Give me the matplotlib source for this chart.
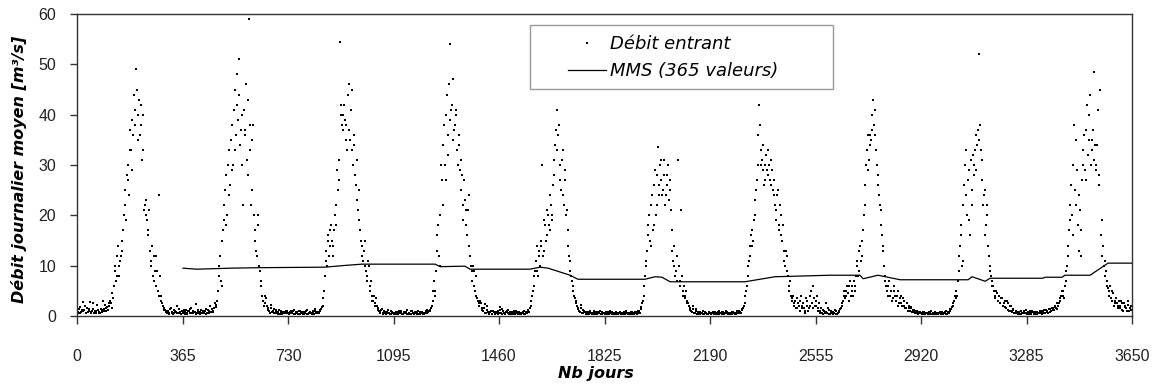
import matplotlib.pyplot as plt
from matplotlib.patches import Rectangle

# daily inflow: two readings per 5-day slot (day 5i and day 5i+2), one list per year
step = 5
offset = 2
year_len = 365

flow_y1 = [1.0, 0.6, 1.8, 0.8, 2.8, 1.2, 0.5, 1.5, 0.9, 2.7, 0.7, 1.3, 0.6, 1.0, 2.2, 0.8, 0.5, 1.1, 2.9, 1.4,
           0.9, 1.8, 2.5, 3.0, 1.6,
           3.5, 9, 7, 12, 8, 11, 13, 17, 22, 19, 27, 24, 33, 29, 36, 41, 49, 35, 43, 38, 31, 40, 22, 20, 17,
           21, 11, 14, 7, 9, 12, 5, 24, 4, 2.5, 1.5,
           1.2, 0.6, 0.9, 0.4, 1.5, 0.7, 0.5, 1.0, 2.0, 0.6, 0.8, 0.4]
flow2_y1 = [0.7, 1.4, 0.5, 1.1, 0.9, 2.0, 0.6, 0.8, 1.3, 0.5, 1.0, 2.6, 0.9, 0.6, 1.2, 0.5, 1.4, 0.7, 1.0, 2.1,
            1.5, 1.2, 2.0, 2.6, 4.5,
            6, 10, 8, 14, 10, 12, 15, 20, 25, 28, 30, 37, 33, 39, 44, 38, 45, 40, 36, 42, 33, 21, 23, 19,
            16, 13, 10, 8, 12, 6, 9, 4, 8, 3, 2, 1.2,
            0.8, 1.0, 0.5, 1.3, 0.6, 0.4, 1.1, 0.7, 0.5, 1.4, 0.6, 0.9]

flow_y2 = [0.5, 1.2, 0.7, 0.4, 1.0, 0.6, 1.5, 0.5, 0.8, 2.4, 0.6, 0.9, 0.4, 1.1, 0.7, 0.5, 1.3, 0.6, 0.9, 2.0,
           0.7, 1.0, 1.6, 2.2,
           3, 8, 12, 6, 17, 22, 28, 20, 33, 26, 38, 30, 45, 36, 42, 51, 34, 40, 22, 37, 46, 28, 59, 33, 25,
           38, 17, 13, 20, 10, 7, 4, 3, 2.5, 3.5, 1.5,
           1.0, 2.2, 0.7, 1.4, 0.5, 0.9, 0.4, 1.2, 0.6, 0.3, 0.8, 0.5, 1.0]
flow2_y2 = [0.8, 0.4, 1.1, 0.6, 0.9, 1.3, 0.5, 1.0, 0.7, 0.4, 1.2, 0.6, 0.8, 0.5, 1.0, 0.9, 0.4, 1.1, 0.6, 0.8,
            1.3, 0.7, 2.6, 1.8,
            5, 10, 7, 15, 19, 25, 18, 30, 24, 35, 29, 41, 33, 48, 39, 44, 37, 30, 41, 36, 31, 43, 38, 22,
            35, 20, 15, 12, 18, 9, 6, 3, 2, 4, 2, 1.2,
            0.6, 1.5, 0.9, 0.5, 1.2, 0.6, 0.8, 0.4, 1.0, 0.7, 0.5, 0.9, 0.6]

flow_y3 = [0.6, 0.3, 0.9, 0.5, 1.2, 0.4, 0.7, 0.3, 1.0, 0.5, 0.8, 0.4, 0.6, 1.1, 0.3, 0.7, 0.5, 0.9, 0.4, 1.3,
           0.6, 0.8, 1.0, 1.4,
           2, 5, 13, 10, 16, 14, 18, 12, 17, 22, 29, 27, 54.5, 40, 37, 42, 38, 33, 46, 35, 45, 30, 34, 26,
           23, 25, 17, 14, 11, 15, 9, 7, 10, 6, 4, 3, 2, 3.5, 1.5,
           1.0, 0.6, 1.4, 0.5, 0.8, 0.4, 1.1, 0.6, 0.3, 0.7]
flow2_y3 = [0.4, 0.8, 0.5, 1.0, 0.3, 0.7, 0.5, 0.9, 0.4, 0.6, 0.3, 0.8, 1.0, 0.4, 0.6, 0.5, 0.3, 0.7, 0.9, 0.5,
            0.8, 0.6, 1.2, 1.8,
            3.5, 8, 11, 15, 12, 17, 15, 14, 20, 18, 25, 31, 42, 38, 40, 39, 35, 44, 37, 41, 33, 36, 28, 31,
            21, 19, 15, 12, 13, 10, 8, 11, 5, 7, 3, 4, 2.5, 2, 1.2,
            0.7, 1.1, 0.4, 0.9, 0.6, 0.8, 0.5, 0.4, 0.9, 0.5]

flow_y4 = [0.5, 0.3, 0.8, 0.4, 1.0, 0.6, 0.3, 0.7, 0.5, 1.2, 0.4, 0.6, 0.3, 0.9, 0.5, 0.7, 0.4, 1.0, 0.3, 0.6,
           0.8, 0.4, 0.5, 1.1, 0.7, 0.9, 1.5,
           3, 7, 5, 13, 18, 10, 30, 22, 38, 27, 44, 36, 54, 41, 47, 37, 40, 33, 36, 29, 31, 22, 27, 21, 16,
           24, 12, 9, 10, 6, 8, 3.5, 2.5, 3, 1.5,
           0.9, 2.4, 0.5, 1.1, 0.4, 0.7, 0.3, 1.0, 0.5, 0.8, 0.4]
flow2_y4 = [0.4, 0.6, 0.3, 0.7, 0.5, 0.9, 0.4, 0.5, 0.8, 0.3, 0.6, 0.4, 0.9, 0.5, 0.3, 0.6, 0.8, 0.4, 0.7, 0.5,
            0.3, 0.6, 0.9, 0.5, 1.0, 1.2, 2.0,
            5, 4, 9, 16, 12, 20, 27, 34, 30, 40, 32, 46, 39, 42, 35, 38, 41, 30, 34, 25, 28, 19, 23, 18,
            21, 14, 10, 7, 9, 5, 4, 3, 2, 2.5, 1.2,
            1.5, 0.6, 2.0, 0.8, 0.5, 1.0, 0.4, 0.7, 0.3, 0.6, 0.9]

flow_y5 = [0.6, 1.8, 0.4, 0.9, 0.3, 0.7, 1.2, 0.4, 0.5, 0.8, 0.3, 0.6, 1.0, 0.4, 0.7, 0.3, 0.5, 0.9, 0.4, 0.6,
           1.1, 0.8,
           2, 4, 6, 9, 14, 8, 12, 15, 30, 13, 18, 16, 20, 17, 22, 19, 28, 34, 41, 36, 30, 25, 33, 22, 27,
           21, 14, 11, 8, 6, 4, 3, 2,
           1.4, 0.8, 2.1, 0.5, 1.0, 0.4, 0.7, 0.3, 0.9, 0.5, 0.6, 0.3, 0.8, 0.4, 0.5, 1.0, 0.3, 0.6]
flow2_y5 = [1.2, 0.5, 1.4, 0.6, 0.4, 0.9, 0.5, 0.7, 0.3, 0.6, 0.9, 0.4, 0.5, 0.8, 0.3, 0.6, 0.7, 0.4, 0.8, 0.5,
            0.9, 1.5,
            3, 5, 8, 11, 9, 13, 10, 14, 12, 19, 15, 21, 18, 24, 20, 26, 31, 37, 33, 38, 27, 31, 24, 29, 20,
            17, 12, 9, 7, 5, 3.5, 2.5, 1.5,
            1.0, 1.6, 0.6, 1.2, 0.7, 0.5, 0.4, 0.8, 0.6, 0.3, 0.9, 0.5, 0.4, 0.7, 0.6, 0.4, 0.8, 0.5]

flow_y6 = [0.4, 0.7, 0.3, 0.5, 0.9, 0.3, 0.6, 0.4, 0.8, 0.3, 0.5, 0.7, 0.4, 0.3, 0.6, 0.9, 0.4, 0.5, 0.3, 0.7,
           0.4, 0.6, 0.8, 0.5, 1.0, 1.3,
           2.5, 4, 8, 11, 16, 20, 14, 24, 18, 29, 22, 33.5, 26, 31, 24, 28, 22, 26, 30, 25, 21, 13, 10, 8,
           12, 31, 7, 21, 5, 6, 4, 3, 2.5, 1.5,
           1.0, 2.0, 0.6, 1.3, 0.4, 0.8, 0.3, 0.6, 1.0, 0.4, 0.5, 0.3, 0.7]
flow2_y6 = [0.6, 0.4, 0.8, 0.3, 0.5, 0.7, 0.4, 0.6, 0.3, 0.5, 0.8, 0.4, 0.6, 0.7, 0.3, 0.5, 0.6, 0.4, 0.8, 0.5,
            0.3, 0.7, 0.4, 0.9, 0.6, 1.8,
            3, 6, 10, 13, 18, 15, 22, 17, 26, 20, 28, 24, 30, 27, 25, 31, 24, 28, 23, 27, 17, 11, 14, 9,
            7, 10, 6, 8, 4, 3.5, 5, 2.5, 2, 1.2,
            0.8, 1.4, 0.5, 0.9, 0.6, 0.4, 0.7, 0.5, 0.3, 0.8, 0.6, 0.4, 0.5]

flow_y7 = [0.5, 0.3, 0.8, 0.4, 0.6, 0.3, 0.9, 0.5, 0.4, 0.7, 0.3, 0.5, 0.8, 0.4, 0.6, 0.3, 0.7, 0.5, 0.4, 0.9,
           0.6, 0.8, 1.1, 1.6,
           2.5, 5, 8, 11, 14, 17, 15, 20, 25, 30, 42, 33, 31, 29, 27, 32, 28, 30, 26, 29, 24, 22, 19, 25,
           17, 20, 15, 13, 10, 12, 8, 5, 4, 3, 2, 3, 1.5, 2.5, 1, 4, 2, 1.5, 0.5, 3, 1, 2, 5, 1.5, 3.5]
flow2_y7 = [0.4, 0.6, 0.5, 0.7, 0.3, 0.8, 0.4, 0.6, 0.7, 0.3, 0.5, 0.9, 0.4, 0.6, 0.3, 0.8, 0.5, 0.4, 0.7, 0.6,
            0.9, 0.5, 1.4, 2.0,
            4, 6, 10, 12, 16, 14, 19, 23, 27, 36, 38, 30, 34, 26, 30, 29, 33, 27, 31, 25, 27, 21, 24, 18,
            22, 16, 18, 11, 13, 9, 6, 7, 3.5, 4, 2.5, 1.5, 3.5, 2, 3, 1.5, 2.5, 1, 3.5, 2, 1.5, 4, 2.5, 6, 2]

flow_y8 = [2, 4, 1, 0.6, 1.5, 0.4, 0.9, 2.6, 0.5, 1.2, 0.4, 0.8, 0.3, 0.6, 1.0, 0.4, 0.7, 1.3, 2.0,
           3, 5, 4, 6, 3, 7, 5, 4, 6, 8, 11, 9, 14, 12, 17, 22, 30, 36, 31, 34, 37, 43, 41, 33, 28, 24,
           21, 16, 13, 8, 6, 4, 7, 5, 3, 6, 4, 3, 5, 2.5, 4, 2, 3, 1.5, 2.5, 1, 2, 1.5, 0.8, 1.2, 0.5,
           0.9, 0.4, 0.7]
flow2_y8 = [3, 1.5, 2.5, 1.0, 0.5, 1.2, 0.6, 0.8, 1.5, 0.4, 0.9, 0.5, 0.7, 1.1, 0.4, 0.6, 1.0, 1.6, 2.5,
            4, 3.5, 5, 4.5, 6, 4, 6, 7, 5, 10, 8, 13, 11, 15, 20, 26, 33, 29, 36, 35, 40, 38, 36, 30, 26,
            22, 18, 14, 10, 7, 5, 6, 4, 5, 3.5, 5, 3, 4, 2, 3.5, 2.5, 3.5, 2, 1.5, 2.5, 1.5, 1.0, 1.8,
            1.2, 0.7, 1.0, 0.6, 0.8, 0.5]

flow_y9 = [0.5, 0.3, 0.8, 0.4, 0.6, 0.3, 0.5, 0.9, 0.4, 0.3, 0.7, 0.5, 0.4, 0.8, 0.3, 0.6, 0.5, 0.9, 0.4, 0.7,
           1.0, 1.4,
           2, 3, 5, 4, 9, 14, 18, 11, 26, 33, 20, 29, 16, 25, 32, 28, 36, 34, 52, 38, 31, 22, 25, 18, 20,
           12, 9, 7, 6, 4, 5, 3, 4, 2.5, 3.5, 2, 3, 1.5, 2.5, 1, 2,
           0.8, 1.3, 0.5, 0.9, 0.4, 0.7, 0.3, 0.6, 1.0, 0.5]
flow2_y9 = [0.4, 0.7, 0.3, 0.6, 0.5, 0.8, 0.4, 0.3, 0.6, 0.7, 0.4, 0.3, 0.6, 0.5, 0.7, 0.4, 0.8, 0.3, 0.6, 0.5,
            1.3, 1.8,
            2.5, 4, 3.5, 7, 12, 16, 10, 22, 30, 24, 27, 19, 31, 22, 30, 33, 29, 37, 35, 33, 27, 24, 16,
            22, 14, 10, 8, 6, 5, 3.5, 4.5, 3, 2.5, 3.5, 2, 2.5, 1.8, 3, 1.2, 2, 1.0,
            1.1, 0.6, 1.0, 0.5, 0.8, 0.4, 0.9, 0.5, 0.7, 1.2]

flow_y10 = [0.4, 0.8, 0.3, 0.6, 1.0, 0.4, 0.7, 0.3, 0.5, 0.9, 0.6, 0.4, 1.1, 0.5, 0.8, 0.6, 1.3, 0.9, 1.5, 1.1,
            1.8, 1.4,
            2, 3, 4, 5, 3.5, 7, 10, 14, 19, 26, 16, 38, 22, 29, 13, 21, 17, 30, 36, 27, 42, 35, 44, 33, 37,
            48.5, 30, 34, 28, 45, 19, 14, 11, 9, 7, 5, 6, 3, 4.5, 2.5, 3.5, 2, 3, 1.5, 2.5, 1, 2, 1.5, 3,
            1, 2]
flow2_y10 = [0.6, 0.5, 0.9, 0.4, 0.7, 0.6, 0.3, 0.8, 0.5, 0.7, 1.0, 0.8, 0.6, 1.2, 1.0, 1.4, 0.8, 1.6, 1.2, 2.0,
             1.5, 2.5,
             2.5, 3.5, 5, 4, 6, 9, 12, 17, 22, 20, 30, 25, 35, 18, 24, 12, 27, 33, 29, 37, 32, 40, 30, 35,
             31, 34, 29, 41, 26, 16, 12, 10, 8, 6, 5.5, 4, 3.5, 5, 2, 3, 2.5, 1.5, 2, 3, 1.2, 2.5, 1.8, 1,
             2.2, 1.5, 1.2]

# moving average (365 values)
mms_days = [367, 415, 529, 633, 858, 917, 986, 1239, 1256, 1342, 1360, 1567, 1602, 1630, 1706, 1733,
            1965, 2000, 2024, 2052, 2311, 2415, 2605, 2709, 2720, 2771, 2848, 3083, 3097, 3142, 3159,
            3342, 3349, 3408, 3418, 3505, 3567, 3650]
mms_vals = [9.5, 9.3, 9.5, 9.6, 9.7, 10.0, 10.3, 10.3, 9.8, 9.9, 9.3, 9.3, 9.7, 9.5, 8.1, 7.3,
            7.3, 7.8, 7.7, 6.8, 6.8, 7.8, 8.1, 8.1, 7.4, 8.1, 7.2, 7.2, 7.8, 6.9, 7.5,
            7.5, 7.7, 7.7, 8.1, 8.1, 10.5, 10.5]

x_ticks = [0, 365, 730, 1095, 1460, 1825, 2190, 2555, 2920, 3285, 3650]
y_ticks = [0, 10, 20, 30, 40, 50, 60]

first_pass = [flow_y1, flow_y2, flow_y3, flow_y4, flow_y5, flow_y6, flow_y7, flow_y8, flow_y9, flow_y10]
second_pass = [flow2_y1, flow2_y2, flow2_y3, flow2_y4, flow2_y5, flow2_y6, flow2_y7, flow2_y8, flow2_y9,
               flow2_y10]
days = []
flows = []
for k in range(len(first_pass)):
    for i in range(len(first_pass[k])):
        days.append(k * year_len + i * step)
        flows.append(first_pass[k][i])
    for i in range(len(second_pass[k])):
        days.append(k * year_len + i * step + offset)
        flows.append(second_pass[k][i])

fig = plt.figure(figsize=(11.67, 3.89), dpi=100)
ax = fig.add_axes([77 / 1167, 1 - 316 / 389, 1055 / 1167, 302 / 389])

ax.plot(days, flows, ls='none', marker='s', ms=2.0, mew=0, color='black', label='Débit entrant')
ax.plot(mms_days, mms_vals, color='black', lw=0.9, label='MMS (365 valeurs)')

ax.set_xlim(0, 3650)
ax.set_ylim(0, 60)
ax.set_xticks(x_ticks)
ax.set_yticks(y_ticks)
tick_font = {'family': 'Liberation Sans', 'size': 11.5}
ax.set_xticklabels([str(v) for v in x_ticks], fontdict=tick_font)
ax.set_yticklabels([str(v) for v in y_ticks], fontdict=tick_font)
ax.tick_params(axis='x', direction='out', length=6, width=1, pad=18, color='#333333', labelcolor='#222222')
ax.tick_params(axis='y', direction='out', length=5, width=1, pad=10, color='#333333', labelcolor='#222222')
for s in ax.spines.values():
    s.set_color('#333333')
    s.set_linewidth(1)

label_font = {'family': 'DejaVu Sans', 'size': 11.5, 'weight': 'bold', 'style': 'italic'}
ax.set_xlabel('Nb jours', fontdict=label_font)
ax.set_ylabel('Débit journalier moyen [m³/s]', fontdict=label_font)
ax.xaxis.set_label_coords(0.492, -0.165)
ax.yaxis.set_label_coords(-0.047, 0.487)

# legend box drawn by hand, entries placed inside it
ax.add_patch(Rectangle((0.4294, 0.7517), 0.2872, 0.2119, transform=ax.transAxes,
                       facecolor='white', edgecolor='#999999', lw=1, zorder=3))
leg = ax.legend(loc='upper left', bbox_to_anchor=(0.4654, 0.93), frameon=False,
                borderpad=0, borderaxespad=0, handlelength=2.1, handletextpad=0.25,
                labelspacing=0.5, prop={'family': 'DejaVu Sans', 'style': 'italic', 'size': 13})
leg.set_zorder(4)

fig.savefig('out.png', dpi=100)
